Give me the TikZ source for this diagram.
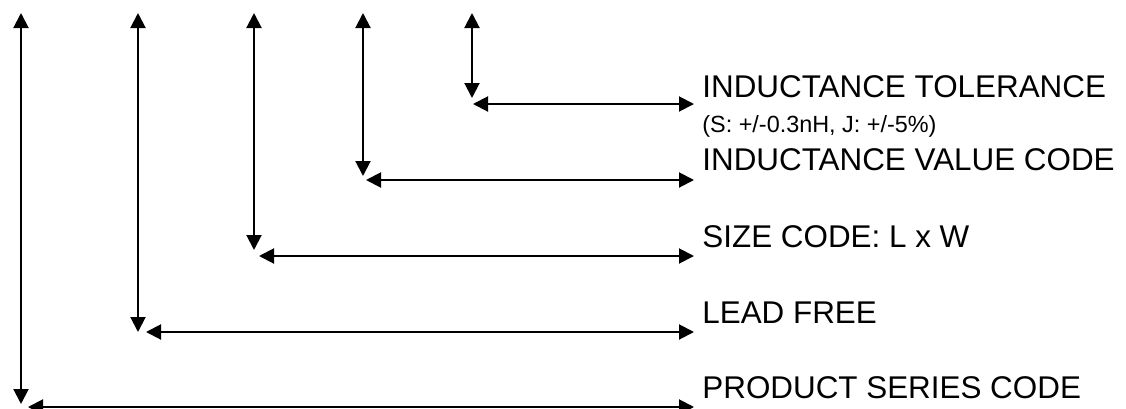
\documentclass[tikz,border=0pt]{standalone}
\usepackage{fontspec}
\setmainfont{Liberation Sans}
\usetikzlibrary{arrows.meta}

\tikzset{
  code/.style={line width=1pt,{Triangle[length=7.5pt,width=7.5pt]}-{Triangle[length=7.5pt,width=7.5pt]}},
  lbl/.style={anchor=base west,inner sep=0pt,font=\fontsize{15.7}{18}\selectfont},
  sublbl/.style={anchor=base west,inner sep=0pt,font=\fontsize{11.7}{14}\selectfont}
}

\begin{document}
\begin{tikzpicture}
[x=0.5pt,y=-0.5pt]
\useasboundingbox (0,0) rectangle (1126,408);
\foreach \n/\x/\t/\y/\l in {1/472/98/104/473,2/363/176/180/366,3/254/250/256/259,4/138/332/332/146,5/21/404/407/28}
{\coordinate (top\n) at (\x,13);\coordinate (bot\n) at (\x,\t);
\coordinate (left\n) at (\l,\y);\coordinate (right\n) at (694,\y);
\draw[code] (top\n)--(bot\n);\draw[code] (left\n)--(right\n);}
\node[lbl] (tol) at (702,97) {INDUCTANCE TOLERANCE};
\node[sublbl] (tolsub) at (702,132) {(S: +/-0.3nH, J: +/-5\%)};
\node[lbl] (val) at (702,170) {INDUCTANCE VALUE CODE};
\node[lbl] (size) at (702,247) {SIZE CODE: L x W};
\node[lbl] (lead) at (702,323) {LEAD FREE};
\node[lbl] (series) at (702,398) {PRODUCT SERIES CODE};
\end{tikzpicture}
\end{document}
